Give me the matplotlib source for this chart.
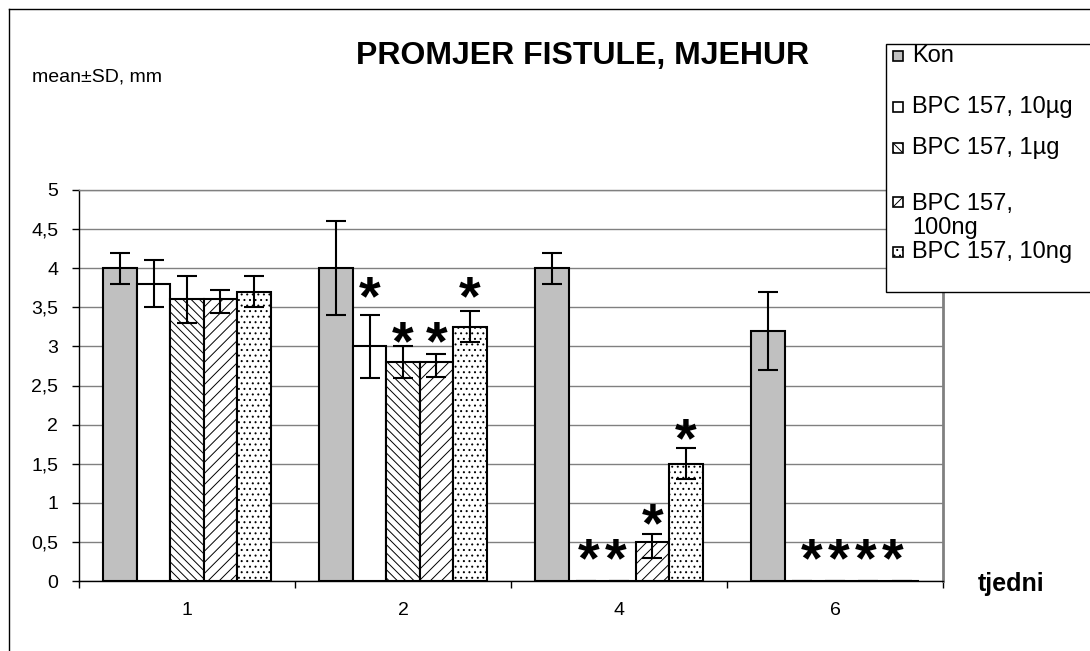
import numpy as np
import matplotlib.pyplot as plt
from matplotlib.patches import Rectangle
from matplotlib.lines import Line2D

plt.rcParams["font.family"] = ["Liberation Sans", "DejaVu Sans"]
plt.rcParams["hatch.linewidth"] = 0.7

# ── data ─────────────────────────────────────────────────────
weeks = ["1", "2", "4", "6"]
series = ["Kon", "BPC 157, 10µg", "BPC 157, 1µg", "BPC 157,\n100ng", "BPC 157, 10ng"]

kon = [4.0, 4.0, 4.0, 3.2]
kon_sd = [0.2, 0.6, 0.2, 0.5]
bpc_10ug = [3.8, 3.0, 0.0, 0.0]
bpc_10ug_sd = [0.3, 0.4, 0.0, 0.0]
bpc_1ug = [3.6, 2.8, 0.0, 0.0]
bpc_1ug_sd = [0.3, 0.2, 0.0, 0.0]
bpc_100ng = [3.6, 2.8, 0.5, 0.0]
bpc_100ng_sd_lo = [0.17, 0.19, 0.2, 0.0]
bpc_100ng_sd_hi = [0.12, 0.1, 0.1, 0.0]
bpc_10ng = [3.7, 3.25, 1.5, 0.0]
bpc_10ng_sd = [0.2, 0.2, 0.2, 0.0]

# significance marks: (week index, series index, height of mark)
stars = [(1, 1, 3.72), (1, 2, 3.15), (1, 3, 3.15), (1, 4, 3.72),
         (2, 3, 0.82), (2, 4, 1.91)]
# marks over zero-height bars: (week index, first series, last series, count)
stars_zero = [(2, 1, 2, 2), (3, 1, 4, 4)]
STAR_Y0 = 0.37

# ── figure ──────────────────────────────────────────────────
W, H = 1090, 651
fig = plt.figure(figsize=(W / 100, H / 100), dpi=100)
ax = fig.add_axes([79 / W, 1 - 581 / H, 864 / W, 391 / H])

means = [kon, bpc_10ug, bpc_1ug, bpc_100ng, bpc_10ng]
errs = [[kon_sd, kon_sd], [bpc_10ug_sd, bpc_10ug_sd], [bpc_1ug_sd, bpc_1ug_sd],
        [bpc_100ng_sd_lo, bpc_100ng_sd_hi], [bpc_10ng_sd, bpc_10ng_sd]]
styles = [dict(facecolor="#c0c0c0"),
          dict(facecolor="white"),
          dict(facecolor="white", hatch="\\\\\\\\"),
          dict(facecolor="white", hatch="///"),
          dict(facecolor="white", hatch="...")]

x = np.arange(len(weeks))
bw = 0.155
for i, (m, e, st) in enumerate(zip(means, errs, styles)):
    pos = x + (i - 2) * bw
    ax.bar(pos, m, bw, edgecolor="black", linewidth=1.5, zorder=2, **st)
    ax.errorbar(pos, m, yerr=e, fmt="none", ecolor="black", elinewidth=1.5,
                capsize=7, capthick=1.5, zorder=3)

STAR_FS = 40


def star(xv, yv):
    # centre of the asterisk glyph sits ~0.44 em above the baseline
    ax.annotate("*", (xv, yv), xytext=(0, -0.44 * STAR_FS),
                textcoords="offset points", ha="center", va="baseline",
                fontsize=STAR_FS, fontweight="bold", zorder=4)


for wi, si, yv in stars:
    star(x[wi] + (si - 2) * bw, yv)
for wi, s0, s1, n in stars_zero:
    xc = x[wi] + ((s0 + s1) / 2 - 2) * bw
    for k in range(n):
        star(xc + (k - (n - 1) / 2) * 0.125, STAR_Y0)

# ── axes ────────────────────────────────────────────────────
ax.set_xlim(-0.5, len(weeks) - 0.5)
ax.set_ylim(0, 5)
yt = np.arange(0, 5.01, 0.5)
ax.set_yticks(yt)
ax.set_yticklabels([f"{v:g}".replace(".", ",") for v in yt])
ax.yaxis.grid(True, color="#808080", lw=1)
ax.set_axisbelow(True)
ax.tick_params(axis="y", direction="out", length=5, width=1, pad=10,
               labelsize=14)

ax.set_xticks(np.arange(-0.5, len(weeks), 1))
ax.set_xticklabels([])
ax.set_xticks(x, minor=True)
ax.set_xticklabels(weeks, minor=True)
ax.tick_params(axis="x", which="major", direction="out", length=5, width=1)
ax.tick_params(axis="x", which="minor", length=0, pad=15, labelsize=14)

for s in ("left", "bottom"):
    ax.spines[s].set_color("black")
    ax.spines[s].set_linewidth(1)
ax.spines["top"].set_color("#808080")
ax.spines["top"].set_linewidth(1)
ax.spines["right"].set_color("#808080")
ax.spines["right"].set_linewidth(2)

# ── texts ───────────────────────────────────────────────────
fig.text(583 / W, 1 - 56 / H, "PROMJER FISTULE, MJEHUR", ha="center",
         va="center", fontsize=23, fontweight="bold")
fig.text(32 / W, 1 - 77 / H, "mean±SD, mm", ha="left", va="center",
         fontsize=14)
fig.text(1011 / W, 1 - 584 / H, "tjedni", ha="center", va="center",
         fontsize=18, fontweight="bold")

# ── chart frame (cut off on the right and bottom) ───────────
fig.add_artist(Line2D([9 / W, 9 / W], [0, 1 - 9 / H], color="black", lw=1))
fig.add_artist(Line2D([9 / W, 1], [1 - 9 / H, 1 - 9 / H], color="black", lw=1))

# ── legend box (runs past the right edge) ───────────────────
fig.add_artist(Rectangle((886 / W, 1 - 292 / H), 0.3, 248 / H,
                         transform=fig.transFigure, facecolor="white",
                         edgecolor="black", lw=1, zorder=5))
leg_y = [56, 107, 148, 202, 252]
for lab, st, yc in zip(series, styles, leg_y):
    fig.add_artist(Rectangle((893 / W, 1 - (yc + 5) / H), 10 / W, 10 / H,
                             transform=fig.transFigure, edgecolor="black",
                             lw=1.2, zorder=6, **st))
    ty = yc + 14 if "\n" in lab else yc
    fig.text(912 / W, 1 - ty / H, lab, ha="left", va="center", fontsize=17,
             linespacing=1.15, zorder=7)

fig.savefig("out.png", dpi=100)
